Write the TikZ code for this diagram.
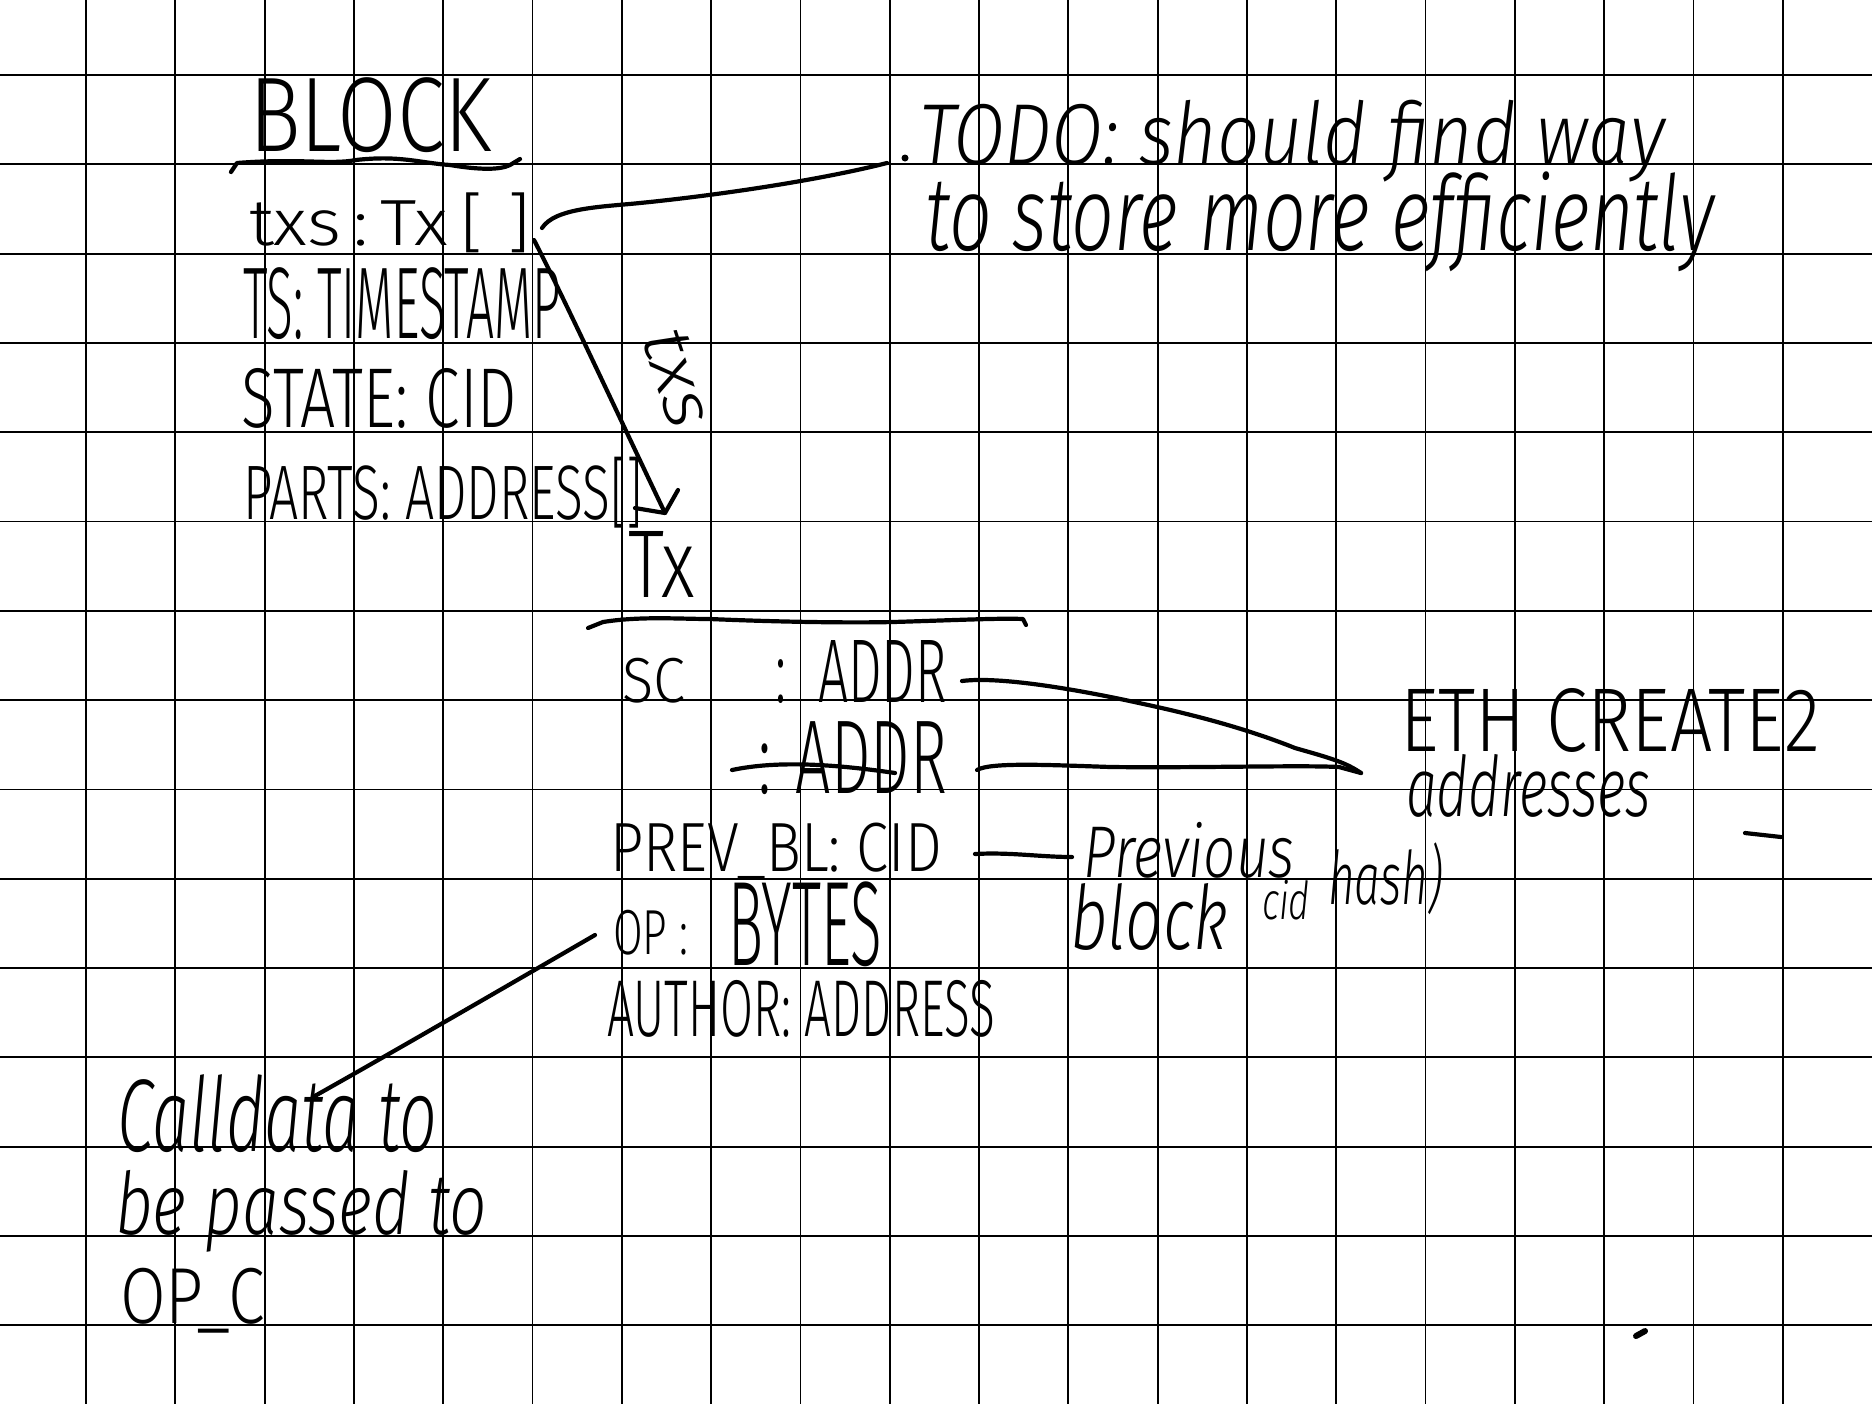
\documentclass[tikz,border=0pt]{standalone}
\usepackage{fontspec}
\usepackage{graphicx}
\IfFontExistsTF{Fira Sans Light}{%
  \newfontfamily\hand{Fira Sans Light}}{%
  \newfontfamily\hand{Fira Sans}}
\IfFontExistsTF{Fira Sans Light Italic}{%
  \newfontfamily\cursive{Fira Sans Light Italic}}{%
  \newfontfamily\cursive{Fira Sans Italic}}
\newlength\pxu \setlength\pxu{0.5pt}
\newcommand\hwtext[3]{\resizebox*{#1\pxu}{#2\pxu}{#3}}
\begin{document}
\begin{tikzpicture}[x=0.5pt,y=-0.5pt,
  hw/.style={anchor=north west,inner sep=0pt,outer sep=0pt},
  hwc/.style={inner sep=0pt,outer sep=0pt},
  pen/.style={line width=2.1pt,line cap=round,line join=round},
  gridline/.style={line width=0.9pt}]
\useasboundingbox (0,0) rectangle (1872,1404);
\fill[white] (0,0) rectangle (1872,1404);
% grid paper
\foreach \i in {0,...,19} \draw[gridline] ({86+89.3*\i},0) -- ({86+89.3*\i},1404);
\foreach \j in {0,...,14} \draw[gridline] (0,{75+89.3*\j}) -- (1872,{75+89.3*\j});

% BLOCK struct
\node[hw] (block) at (249,78) {\hwtext{243}{75}{\hand BLOCK}};
\draw[pen] (231,172) -- (237,163) .. controls (300,158) and (330,165) .. (356,160)
  .. controls (400,155) and (420,163) .. (450,165) .. controls (480,170) and (500,170) .. (510,165) -- (520,159);
\node[hw] (txs) at (249,193) {\hwtext{282}{60}{\hand txs\,:\,Tx\,[\,\,]}};
\node[hw] (ts) at (243,268) {\hwtext{318}{72}{\hand TS: TIMESTAMP}};
\node[hw] (state) at (241,368) {\hwtext{276}{60}{\hand STATE: CID}};
\node[hw] (parts) at (243,457) {\hwtext{400}{71}{\hand PARTS: ADDRESS[]}};

% TODO note
\node[hw] (todo1) at (919,100) {\hwtext{746}{82}{\cursive TODO: should find way}};
\node[hw] (todo2) at (925,172) {\hwtext{789}{100}{\cursive to store more efficiently}};
\coordinate (txsE) at (542,228);
\coordinate (todoEnd) at (887,163);
\coordinate (todoDot) at (905,158);
\draw[pen] (txsE) .. controls (555,208) and (600,207) .. (640,203)
  .. controls (720,195) and (820,180) .. (todoEnd);
\fill (todoDot) circle (3.5);

% arrow txs -> Tx
\coordinate (arrS) at (534,240);
\coordinate (arrE) at (665,513);
\coordinate (barbL) at (635,508);
\coordinate (barbR) at (678,490);
\draw[pen] (arrS) .. controls (565,300) and (630,440) .. (arrE);
\draw[pen] (barbL) -- (arrE) -- (barbR);
\node[hwc,rotate=-72] (txslbl) at (678,378) {\hwtext{100}{46}{\cursive txs}};

% Tx struct
\node[hw] (tx) at (628,531) {\hwtext{67}{66}{\hand Tx}};
\draw[pen] (588,628) -- (603,622) .. controls (640,616) and (680,619) .. (710,619)
  .. controls (780,622) and (850,623) .. (893,622) .. controls (960,620) and (1000,618) .. (1023,619) -- (1026,625);
\node[hw] (sc) at (622,658) {\hwtext{63}{45}{\hand SC}};
\node[hw] (scaddr) at (775,640) {\hwtext{172}{63}{\hand :\hspace{0.6em}ADDR}};
\node[hw] (addr2) at (758,722) {\hwtext{189}{73}{\hand :\hspace{0.4em}ADDR}};
\draw[pen] (732,770) .. controls (770,762) and (820,762) .. (895,773);
\node[hw] (prev) at (610,823) {\hwtext{332}{57}{\hand PREV\_BL: CID}};
\node[hw] (op) at (613,910) {\hwtext{75}{45}{\hand OP :}};
\node[hw] (bytes) at (728,882) {\hwtext{154}{85}{\hand BYTES}};
\node[hw] (author) at (607,980) {\hwtext{388}{57}{\hand AUTHOR: ADDRESS}};

% ETH CREATE2 note
\node[hw] (eth) at (1400,688) {\hwtext{420}{64}{\hand ETH CREATE2}};
\node[hw] (addresses) at (1406,754) {\hwtext{245}{63}{\cursive addresses}};
\coordinate (scE) at (962,681);
\coordinate (a2E) at (977,770);
\coordinate (ethW) at (1361,773);
\draw[pen] (scE) .. controls (1000,676) and (1080,690) .. (1139,703)
  .. controls (1200,716) and (1250,730) .. (1295,748) .. controls (1330,758) and (1345,762) .. (ethW);
\draw[pen] (a2E) .. controls (990,762) and (1050,765) .. (1111,767)
  .. controls (1200,768) and (1300,765) .. (1339,767) -- (ethW);
\draw[pen] (1745,833) -- (1781,837);

% previous block note
\node[hw] (previous) at (1083,822) {\hwtext{212}{56}{\cursive Previous}};
\node[hw] (blockw) at (1070,883) {\hwtext{158}{67}{\cursive block}};
\node[hw] (cid) at (1262,880) {\hwtext{48}{40}{\cursive cid}};
\node[hw] (hash) at (1328,843) {\hwtext{115}{72}{\cursive hash)}};
\coordinate (prevE) at (975,854);
\coordinate (previousW) at (1072,857);
\draw[pen] (prevE) .. controls (1010,852) and (1040,857) .. (previousW);

% calldata note
\node[hw] (call1) at (117,1075) {\hwtext{320}{78}{\cursive Calldata to}};
\node[hw] (call2) at (115,1170) {\hwtext{372}{82}{\cursive be passed to}};
\node[hw] (call3) at (120,1268) {\hwtext{145}{65}{\hand OP\_C}};
\coordinate (opW) at (595,935);
\coordinate (callN) at (313,1097);
\draw[pen] (opW) .. controls (500,990) and (400,1048) .. (callN);

% stray mark
\draw[pen,line width=3pt] (1636,1336) -- (1645,1331);
\end{tikzpicture}
\end{document}
